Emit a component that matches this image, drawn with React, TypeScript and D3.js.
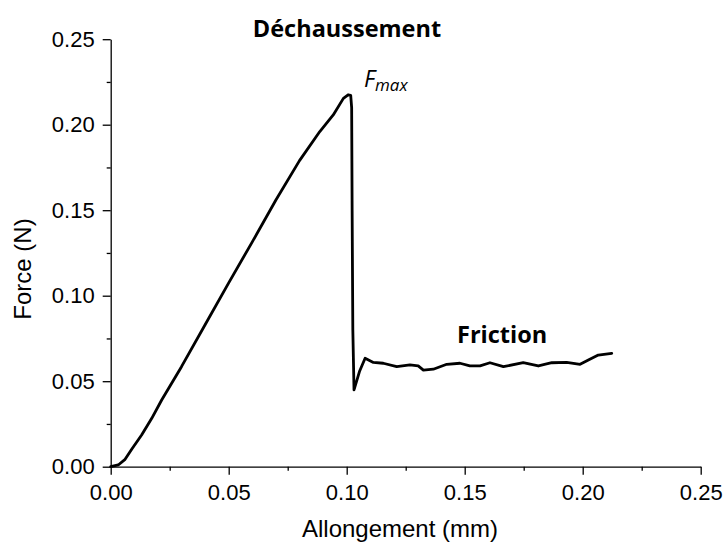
import { useRef, useEffect } from 'react'
import * as d3 from 'd3'

// allongement (mm) / force (N)
const elongation = [
  0, 0.0032, 0.0061, 0.0089, 0.0131, 0.0174, 0.0216, 0.03, 0.04, 0.05, 0.06, 0.07, 0.08,
  0.0886, 0.0943, 0.0986, 0.1006, 0.1017, 0.1021, 0.1023, 0.1026, 0.1031, 0.1055, 0.1078,
  0.1113, 0.1155, 0.1212, 0.1268, 0.1303, 0.1325, 0.1367, 0.1424, 0.148, 0.1522, 0.1565,
  0.1607, 0.1664, 0.1748, 0.1812, 0.1869, 0.1932, 0.1989, 0.2024, 0.2066, 0.2123,
]
const force = [
  0, 0.001, 0.0043, 0.0102, 0.0185, 0.0283, 0.039, 0.0585, 0.083, 0.1075, 0.1315, 0.156, 0.179,
  0.196, 0.2057, 0.2154, 0.2175, 0.2172, 0.21, 0.15, 0.08, 0.0449, 0.056, 0.0634,
  0.061, 0.0605, 0.0585, 0.0595, 0.059, 0.0565, 0.057, 0.0599, 0.0605, 0.059, 0.059,
  0.0608, 0.0585, 0.0608, 0.0589, 0.0608, 0.061, 0.0599, 0.0624, 0.0653, 0.0663,
]
const xTicks = [0, 0.05, 0.1, 0.15, 0.2, 0.25]
const yTicks = [0, 0.05, 0.1, 0.15, 0.2, 0.25]
const xMinor = [0.025, 0.075, 0.125, 0.175, 0.225]
const yMinor = [0.025, 0.075, 0.125, 0.175, 0.225]

const width = 723
const height = 547

export default function App() {
  const svgRef = useRef<SVGSVGElement>(null)

  useEffect(() => {
    if (!svgRef.current) return
    document.body.style.margin = '0'
    const svg = d3.select(svgRef.current)
    svg.selectAll('*').remove()

    const xScale = d3.scaleLinear().domain([0, 0.25]).range([110.7, 700.7])
    const yScale = d3.scaleLinear().domain([0, 0.25]).range([466.7, 39.2])
    const axisFont = "'Liberation Sans', Arial, sans-serif"
    const labelFont = "'Open Sans', sans-serif"

    // minor ticks
    svg.append('g')
      .attr('transform', `translate(0,${yScale(0)})`)
      .call(d3.axisBottom(xScale).tickValues(xMinor).tickSize(4).tickFormat(() => ''))
      .call((g) => g.select('.domain').remove())
      .call((g) => g.selectAll('line').attr('stroke', '#000').attr('stroke-width', 1.3))
    svg.append('g')
      .attr('transform', `translate(${xScale(0)},0)`)
      .call(d3.axisLeft(yScale).tickValues(yMinor).tickSize(4).tickFormat(() => ''))
      .call((g) => g.select('.domain').remove())
      .call((g) => g.selectAll('line').attr('stroke', '#000').attr('stroke-width', 1.3))

    // X axis
    svg.append('g')
      .attr('transform', `translate(0,${yScale(0)})`)
      .call(d3.axisBottom(xScale).tickValues(xTicks).tickSize(8).tickSizeOuter(0).tickPadding(10).tickFormat(d3.format('.2f')))
      .call((g) => g.select('.domain').attr('stroke', '#000').attr('stroke-width', 1.3))
      .call((g) => g.selectAll('line').attr('stroke', '#000').attr('stroke-width', 1.3))
      .call((g) => g.selectAll('text').attr('fill', '#000').attr('font-size', '22px').attr('font-family', axisFont))

    // Y axis
    svg.append('g')
      .attr('transform', `translate(${xScale(0)},0)`)
      .call(d3.axisLeft(yScale).tickValues(yTicks).tickSize(8).tickSizeOuter(0).tickPadding(8).tickFormat(d3.format('.2f')))
      .call((g) => g.select('.domain').attr('stroke', '#000').attr('stroke-width', 1.3))
      .call((g) => g.selectAll('line').attr('stroke', '#000').attr('stroke-width', 1.3))
      .call((g) => g.selectAll('text').attr('fill', '#000').attr('font-size', '22px').attr('font-family', axisFont))

    // Curve
    const points = elongation.map((x, i) => [x, force[i]] as [number, number])
    const line = d3.line<[number, number]>().x((d) => xScale(d[0])).y((d) => yScale(d[1]))
    svg.append('path')
      .datum(points)
      .attr('fill', 'none')
      .attr('stroke', '#000')
      .attr('stroke-width', 2.8)
      .attr('stroke-linejoin', 'round')
      .attr('stroke-linecap', 'round')
      .attr('d', line)

    // Axis titles
    svg.append('text')
      .attr('x', 400).attr('y', 537)
      .attr('text-anchor', 'middle')
      .attr('font-family', axisFont).attr('font-size', '24px')
      .text('Allongement (mm)')
    svg.append('text')
      .attr('transform', 'translate(31,269) rotate(-90)')
      .attr('text-anchor', 'middle')
      .attr('font-family', axisFont).attr('font-size', '24px')
      .text('Force (N)')

    // Annotations
    svg.append('text')
      .attr('x', 347).attr('y', 37)
      .attr('text-anchor', 'middle')
      .attr('font-family', labelFont).attr('font-weight', 'bold').attr('font-size', '23.5px')
      .text('Déchaussement')
    svg.append('text')
      .attr('x', 457).attr('y', 343)
      .attr('font-family', labelFont).attr('font-weight', 'bold').attr('font-size', '23.5px')
      .text('Friction')
    const fmax = svg.append('text')
      .attr('x', 364).attr('y', 87)
      .attr('font-family', labelFont).attr('font-style', 'italic')
    fmax.append('tspan').attr('font-size', '23px').text('F')
    fmax.append('tspan').attr('font-size', '17px').attr('dy', 4).text('max')
  }, [])

  return (
    <div style={{ position: 'absolute', left: 0, top: 0 }}>
      <svg ref={svgRef} width={width} height={height} style={{ display: 'block' }} />
    </div>
  )
}
